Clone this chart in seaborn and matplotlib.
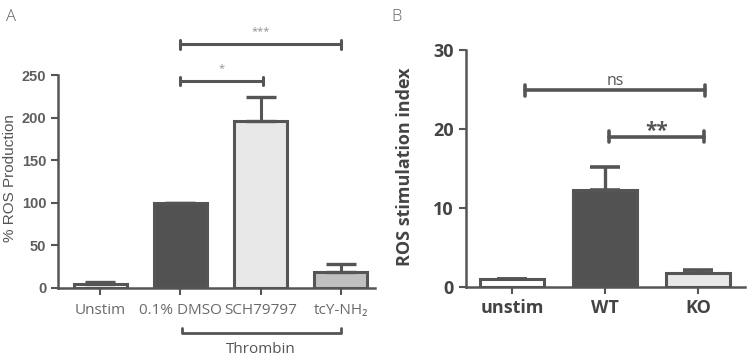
import numpy as np
import pandas as pd
import matplotlib.pyplot as plt
import matplotlib.transforms as mtransforms
import seaborn as sns

# Panel A data
a_groups = ['Unstim', '0.1% DMSO', 'SCH79797', 'tcY-NH\u2082']
a_means = [5, 100, 196, 19]
a_errs = [2, 0, 28, 9]
a_colors = ['#ffffff', '#525252', '#e8e8e8', '#c0c0c0']

# Panel B data
b_groups = ['unstim', 'WT', 'KO']
b_means = [1.0, 12.3, 1.8]
b_errs = [0.0, 2.9, 0.3]
b_colors = ['#ffffff', '#525252', '#e8e8e8']

sns.set_style('ticks')
plt.rcParams['font.family'] = ['Open Sans', 'DejaVu Sans']

dark = '#555555'
fig = plt.figure(figsize=(7.5, 3.59), dpi=100)

# ---------- Panel A ----------
axA = fig.add_axes([0.0773, 0.198, 0.4227, 0.7117])
dfA = pd.DataFrame({'group': a_groups, 'value': a_means})
sns.barplot(data=dfA, x='group', y='value', hue='group', palette=a_colors,
            legend=False, width=0.67, edgecolor=dark, linewidth=2.2, ax=axA)
axA.errorbar(np.arange(len(a_groups)), a_means,
             yerr=[np.zeros(len(a_errs)), a_errs], fmt='none',
             ecolor=dark, elinewidth=2.2, capsize=10.5, capthick=2.4, zorder=1)
axA.set_xlim(-0.53, 3.43)
axA.set_ylim(0, 300)
axA.set_yticks([0, 50, 100, 150, 200, 250])
axA.spines['left'].set_bounds(0, 250)
sns.despine(ax=axA)
for s in ['left', 'bottom']:
    axA.spines[s].set_color(dark)
    axA.spines[s].set_linewidth(1.8)
axA.tick_params(colors=dark, width=1.5, length=5)
axA.tick_params(axis='y', labelsize=10.5, labelcolor='#5e5e5e')
axA.tick_params(axis='x', labelsize=11, labelcolor='#6a6a6a', pad=6)
for lbl in axA.get_yticklabels():
    lbl.set_fontfamily('Liberation Sans')
    lbl.set_fontweight('bold')
axA.set_xlabel('')
axA.set_ylabel('% ROS Production', fontsize=11, color='#555555',
               family='Liberation Sans', va='center')
axA.yaxis.set_label_coords(-0.152, 0.43)

def sig_bar(ax, x1, x2, y, h, text, fs, color, lw, dy, weight='normal'):
    ax.plot([x1, x2], [y, y], color=dark, lw=lw, clip_on=False)
    ax.plot([x1, x1], [y - h, y + h], color=dark, lw=lw, clip_on=False)
    ax.plot([x2, x2], [y - h, y + h], color=dark, lw=lw, clip_on=False)
    ax.text((x1 + x2) / 2, y + dy, text, ha='center', va='bottom',
            fontsize=fs, color=color, fontweight=weight)

sig_bar(axA, 1, 3, 286, 5, '***', 8, '#909090', 2.2, 8)
sig_bar(axA, 1, 2.03, 243, 5, '*', 8, '#909090', 2.2, 8)

# Thrombin bracket under the axis
trans = mtransforms.blended_transform_factory(axA.transData, axA.transAxes)
axA.plot([1.02, 1.02, 3.0, 3.0], [-0.157, -0.176, -0.176, -0.157],
         color=dark, lw=2, transform=trans, clip_on=False)
axA.text(2.0, -0.21, 'Thrombin', transform=trans, ha='center', va='top',
         fontsize=11, color='#555555')

# ---------- Panel B ----------
axB = fig.add_axes([0.621, 0.2006, 0.372, 0.6604])
dfB = pd.DataFrame({'group': b_groups, 'value': b_means})
sns.barplot(data=dfB, x='group', y='value', hue='group', palette=b_colors,
            legend=False, width=0.69, edgecolor=dark, linewidth=2.2, ax=axB)
axB.errorbar(np.arange(len(b_groups)), b_means,
             yerr=[np.zeros(len(b_errs)), b_errs], fmt='none',
             ecolor=dark, elinewidth=2.4, capsize=11, capthick=2.6, zorder=1)
axB.set_xlim(-0.5, 2.5)
axB.set_ylim(0, 30)
axB.set_yticks([0, 10, 20, 30])
sns.despine(ax=axB)
for s in ['left', 'bottom']:
    axB.spines[s].set_color(dark)
    axB.spines[s].set_linewidth(1.8)
axB.tick_params(colors=dark, width=1.5, length=5)
axB.tick_params(axis='both', labelsize=13, labelcolor='#444444')
for lbl in axB.get_yticklabels() + axB.get_xticklabels():
    lbl.set_fontweight('bold')
axB.set_xlabel('')
axB.set_ylabel('ROS stimulation index', fontsize=13, color='#444444',
               fontweight='bold', va='center')
axB.yaxis.set_label_coords(-0.219, 0.506)

sig_bar(axB, 0.14, 2.07, 24.9, 0.7, 'ns', 11.5, '#555555', 2.6, 0.1)
sig_bar(axB, 1.04, 2.06, 19.0, 0.7, '**', 15, '#555555', 2.6, -0.6, 'bold')

fig.text(0.008, 0.975, 'A', fontsize=12, color='#666666', va='top',
         fontweight='light')
fig.text(0.522, 0.975, 'B', fontsize=12, color='#666666', va='top',
         fontweight='light')

fig.savefig('out.png', dpi=100)
